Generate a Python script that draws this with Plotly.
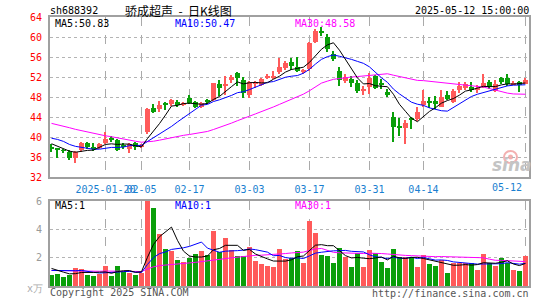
import plotly.graph_objects as go
import pandas as pd

# ---- data ----
idx = list(range(80))
opens  = [38.0,37.8,37.35,37.1,35.8,37.4,38.8,38.0,37.8,38.8,
          39.8,39.5,38.4,37.6,38.8,38.0,41.0,45.8,45.7,46.6,
          46.7,47.1,46.5,47.8,47.1,46.0,47.3,47.4,50.6,50.4,
          51.5,52.8,51.5,48.5,50.7,50.5,52.0,51.9,53.0,53.8,
          55.0,54.0,53.0,53.6,59.1,61.2,60.0,56.6,53.3,51.2,
          51.7,50.8,49.4,50.0,52.2,50.9,49.1,44.1,42.0,41.9,
          43.6,43.7,46.5,47.2,47.3,46.1,48.5,47.0,49.5,49.8,
          50.1,49.5,50.1,51.1,49.3,51.9,51.8,50.6,51.1,50.7]
highs  = [38.6,37.9,37.6,37.4,37.2,39.0,39.0,38.8,38.9,41.1,
          40.2,39.7,38.8,38.9,39.0,38.6,45.9,46.7,47.3,47.1,
          47.6,47.4,47.0,48.5,47.3,47.0,47.6,50.9,51.5,52.2,
          52.4,53.1,52.0,51.2,51.3,51.8,52.6,53.3,55.8,55.2,
          55.8,56.1,53.6,59.0,61.6,62.0,60.7,57.2,54.1,52.6,
          52.3,51.4,50.3,52.8,52.5,51.6,49.7,45.1,43.8,43.4,
          44.0,46.0,49.5,48.1,48.3,49.5,49.2,49.6,51.1,51.1,
          51.0,50.4,52.6,51.4,51.5,52.1,52.6,51.2,51.3,51.9]
lows   = [37.0,35.8,36.8,35.5,34.8,37.0,37.6,37.2,37.6,38.6,
          39.0,37.2,37.6,36.8,37.5,37.8,40.6,44.8,45.0,45.5,
          46.3,46.1,46.2,46.6,45.9,45.8,46.6,47.2,48.3,48.4,
          50.9,50.3,47.8,47.8,49.8,50.2,51.6,51.7,52.7,53.5,
          53.4,53.0,52.6,53.3,58.9,60.2,57.0,55.2,50.3,50.8,
          50.0,48.8,48.4,48.6,49.6,49.6,48.0,39.1,40.3,38.6,
          41.6,43.2,46.1,45.8,45.6,46.0,47.5,46.8,48.8,49.5,
          49.0,48.9,49.9,49.7,49.1,50.7,50.3,50.4,49.0,50.6]
closes = [37.6,37.4,37.25,35.8,37.0,38.8,38.0,37.6,38.7,39.7,
          39.4,37.4,38.0,38.6,38.0,38.4,45.7,45.0,46.5,46.5,
          47.4,46.4,46.8,46.9,46.0,46.8,47.2,50.8,49.9,50.5,
          52.1,51.9,48.8,51.1,50.8,51.6,52.1,52.3,54.1,54.9,
          54.2,53.2,53.5,58.9,61.2,61.0,57.6,55.6,51.5,52.1,
          50.8,49.2,49.6,51.9,49.9,50.5,48.5,42.1,41.9,42.9,
          43.5,45.1,47.3,46.9,46.6,48.1,47.7,49.3,50.3,50.6,
          49.4,49.6,50.9,50.0,50.65,51.1,50.6,50.7,50.4,51.35]
volumes = [0.78,0.85,0.64,0.80,1.29,1.20,0.78,0.72,0.88,1.40,
           0.70,1.40,1.00,0.95,0.76,0.93,6.50,5.52,3.69,2.60,
           2.48,1.83,1.71,1.95,2.26,2.48,2.20,3.90,2.40,3.38,
           2.55,2.12,2.12,2.74,1.76,1.55,1.40,1.36,2.60,1.88,
           2.00,2.48,1.64,4.57,3.71,2.19,2.12,1.64,2.71,2.07,
           1.36,2.31,1.36,2.55,2.31,1.71,1.29,2.62,2.02,2.07,
           2.07,1.36,2.19,1.55,1.40,1.83,0.93,1.60,1.60,1.60,
           1.64,1.12,2.26,1.60,1.40,2.00,1.64,1.12,1.05,2.14]
# earlier sessions (not drawn) needed for the moving averages
pre_closes = [44.8,45.5,46.2,46.8,47.2,46.5,45.9,46.3,45.6,44.9,
              45.2,44.6,44.1,45.0,44.4,43.2,41.6,40.0,38.9,38.3,
              39.8,41.2,41.9,40.8,40.8,40.1,39.2,38.6,38.0]
pre_volumes = [1.2,0.9,1.4,1.0,1.1,0.8,1.3,1.2,0.9,1.0,
               1.5,1.1,0.9,1.2,1.0,1.3,0.8,1.1,1.2,1.0,
               0.9,1.0,0.8,1.1,1.0,1.6,1.2,1.4,1.22]
tick_pos = [9, 15, 23, 33, 43, 53, 62, 79]
tick_text = ["2025-01-20", "02-05", "02-17", "03-03", "03-17", "03-31", "04-14", "05-12"]
price_ticks = [32, 36, 40, 44, 48, 52, 56, 60, 64]
vol_ticks = [2, 4, 6]

RED = "#ff5a5a"
GREEN = "#0a9f0a"
n_pre = len(pre_closes)

c_all = pd.Series(pre_closes + closes)
v_all = pd.Series(pre_volumes + volumes)
ma = {k: c_all.rolling(k).mean().tolist()[n_pre:] for k in (5, 10, 30)}
vma = {k: v_all.rolling(k).mean().tolist()[n_pre:] for k in (5, 10, 30)}

colors = []
for i in idx:
    if closes[i] > opens[i]:
        colors.append(RED)
    elif closes[i] < opens[i]:
        colors.append(GREEN)
    else:
        colors.append(RED)

body_base = [min(o, c) for o, c in zip(opens, closes)]
body_h = [max(abs(c - o), 0.18) for o, c in zip(opens, closes)]
wick_h = [h - l for h, l in zip(highs, lows)]

fig = go.Figure()
fig.add_trace(go.Bar(x=idx, y=wick_h, base=lows, width=0.18, marker=dict(color=colors, line=dict(width=0)),
                     xaxis="x", yaxis="y", showlegend=False))
fig.add_trace(go.Bar(x=idx, y=body_h, base=body_base, width=0.75, marker=dict(color=colors, line=dict(width=0)),
                     xaxis="x", yaxis="y", showlegend=False))
for k, col in ((30, "#ff00ff"), (10, "#0000ff"), (5, "#000000")):
    fig.add_trace(go.Scatter(x=idx, y=ma[k], mode="lines", line=dict(color=col, width=1),
                             xaxis="x", yaxis="y", showlegend=False))

fig.add_trace(go.Bar(x=idx, y=volumes, width=0.8, marker=dict(color=colors, line=dict(width=0)),
                     xaxis="x2", yaxis="y2", showlegend=False))
for k, col in ((30, "#ff00ff"), (10, "#0000ff"), (5, "#000000")):
    fig.add_trace(go.Scatter(x=idx, y=vma[k], mode="lines", line=dict(color=col, width=1),
                             xaxis="x2", yaxis="y2", showlegend=False))

MONO = "DejaVu Sans Mono"
W, L, R, T, B = 545, 50, 16, 17, 14
H = 300
pw, ph = W - L - R, H - T - B

def px(x):
    return (x - L) / pw

def py(y):
    return (H - B - y) / ph

# the last date label is drawn separately, pulled left inside the frame as in the reference
shown_text = tick_text[:-1] + [""]

grid_x = dict(showgrid=True, gridcolor="#aaaaaa", griddash="dash", gridwidth=1.3,
              tickvals=tick_pos, ticktext=shown_text, range=[-0.25, 79.6], tickangle=0,
              showline=True, mirror=True, linecolor="#a0a0a0", linewidth=2, zeroline=False, ticks="",
              automargin=False)
fig.update_layout(
    width=W, height=H, margin=dict(l=L, r=R, t=T, b=B, autoexpand=False),
    paper_bgcolor="white", plot_bgcolor="white", barmode="overlay", bargap=0,
    font=dict(family=MONO, size=10, color="#000"),
    xaxis=dict(grid_x, domain=[0, 1], anchor="y", showticklabels=True, ticklabelstandoff=2,
               tickfont=dict(family=MONO, size=10, color="#1a7fd0")),
    yaxis=dict(domain=[py(177.3), 1], range=[32, 64], tickvals=price_ticks, automargin=False,
               showgrid=True, gridcolor="#b4b4b4", griddash="dot", gridwidth=1,
               showline=True, mirror=True, linecolor="#a0a0a0", linewidth=2, zeroline=False,
               ticks="", ticklabelstandoff=4, tickfont=dict(family=MONO, size=10, color="#ff0000")),
    xaxis2=dict(grid_x, domain=[0, 1], anchor="y2", showticklabels=False),
    yaxis2=dict(domain=[0, py(201)], range=[0, 6], tickvals=vol_ticks, automargin=False,
                showgrid=True, gridcolor="#b4b4b4", griddash="dot", gridwidth=1,
                showline=True, mirror=True, linecolor="#a0a0a0", linewidth=2, zeroline=False,
                ticks="", ticklabelstandoff=4, tickfont=dict(family=MONO, size=10, color="#999999")),
)

def note(text, x, y, anchor="left", color="#000", size=10, family=MONO, **kw):
    fig.add_annotation(text=text, x=px(x), y=py(y), xref="paper", yref="paper", xanchor=anchor,
                       yanchor="middle", showarrow=False,
                       font=dict(family=family, size=size, color=color), borderpad=0, **kw)

note("sh688392", 49, 11)
note("骄成超声  -  日K线图", 178, 10, anchor="center", size=12, family="Noto Sans CJK SC")
note("2025-05-12 15:00:00", 530, 11, anchor="right")
note("MA5:%.2f" % ma[5][-1], 54, 24)
note("MA10:%.2f" % ma[10][-1], 174, 24, color="#0000ff")
note("MA30:%.2f" % ma[30][-1], 294, 24, color="#ff00ff")
note("MA5:%d" % int(vma[5][-1]), 54, 206)
note("MA10:%d" % int(vma[10][-1]), 174, 206, color="#0000ff")
note("MA30:%d" % int(vma[30][-1]), 294, 206, color="#ff00ff")
note(tick_text[-1], 523, 188, anchor="right", color="#1a7fd0")
note("Copyright 2025 SINA.COM", 49, 292, color="#555555")
note("http://finance.sina.com.cn", 530, 293, anchor="right", color="#555555")
note("x万", 44, 288, anchor="right", color="#aaaaaa")

# sina watermark: faint red eye mark + grey word
fig.add_shape(type="circle", xref="paper", yref="paper",
              x0=px(504), x1=px(517), y0=py(163), y1=py(151),
              line=dict(color="#f3b0b0", width=2), fillcolor="rgba(0,0,0,0)", layer="below")
fig.add_shape(type="circle", xref="paper", yref="paper",
              x0=px(508), x1=px(513), y0=py(159.5), y1=py(154.5),
              line=dict(width=0), fillcolor="#f3b0b0", layer="below")
note("<b><i>sina</i></b>", 512, 165, anchor="center", color="#c4c4c4", size=17, family="DejaVu Sans")

fig.write_html("out.html")
